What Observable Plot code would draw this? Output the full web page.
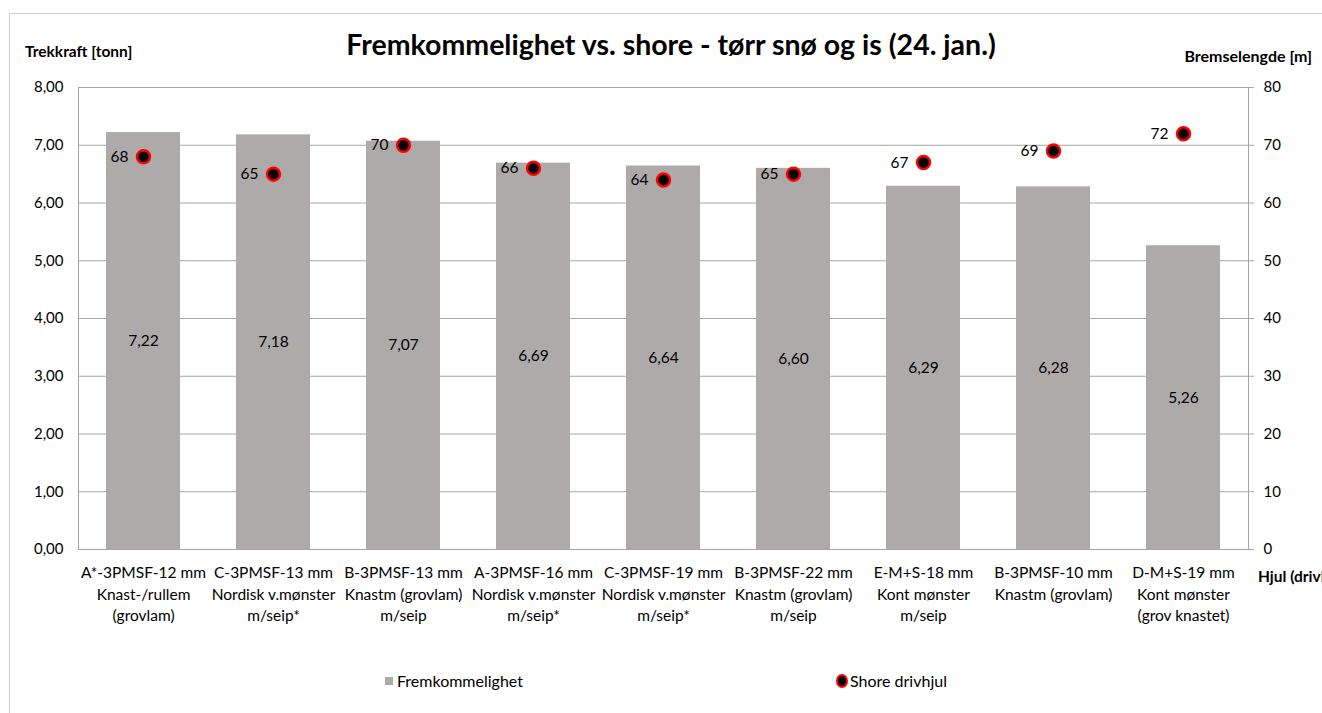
<!DOCTYPE html>
<html>
<head>
<meta charset="utf-8">
<script src="https://cdn.jsdelivr.net/npm/d3@7"></script>
<script src="https://cdn.jsdelivr.net/npm/@observablehq/plot@0.6"></script>
<style>
  html, body { margin: 0; padding: 0; background: #fff; }
  #wrap { position: relative; width: 1322px; height: 713px; overflow: hidden; font-family: Lato, "Open Sans", sans-serif; color: #000; }
  #border { position: absolute; left: 9px; top: 13px; width: 1330px; height: 720px; border: 1px solid #d0d0d0; box-sizing: border-box; }
  .lbl { position: absolute; white-space: nowrap; }
  #title { left: 0; width: 1342px; text-align: center; top: 27px; font-size: 28.5px; font-weight: bold; }
  #ylab { left: 25px; top: 42px; font-size: 15.5px; font-weight: bold; }
  #y2lab { right: 10px; top: 46px; font-size: 16px; font-weight: bold; }
  #xlab { left: 1258px; top: 567px; font-size: 15.5px; font-weight: bold; }
  .leg { top: 671px; font-size: 16px; display: flex; align-items: center; }
  #plot { position: absolute; left: 0; top: 0; }
</style>
</head>
<body>
<div id="wrap">
  <div id="border"></div>
  <div id="plot"></div>
  <div class="lbl" id="title">Fremkommelighet vs. shore - tørr snø og is (24. jan.)</div>
  <div class="lbl" id="ylab">Trekkraft [tonn]</div>
  <div class="lbl" id="y2lab">Bremselengde [m]</div>
  <div class="lbl" id="xlab">Hjul (drivhjul)</div>
  <div class="lbl leg" style="left:385px"><span style="display:inline-block;width:8px;height:8px;background:#aeaaaa;margin-right:4px"></span>Fremkommelighet</div>
  <div class="lbl leg" style="left:836px"><span style="display:inline-block;width:8px;height:10px;border-radius:50%;background:#000;border:2px solid #ff0000;margin-right:2px"></span>Shore drivhjul</div>
</div>
<script>
const categories = [
  "A*-3PMSF-12 mm\nKnast-/rullem\n(grovlam)",
  "C-3PMSF-13 mm\nNordisk v.mønster\nm/seip*",
  "B-3PMSF-13 mm\nKnastm (grovlam)\nm/seip",
  "A-3PMSF-16 mm\nNordisk v.mønster\nm/seip*",
  "C-3PMSF-19 mm\nNordisk v.mønster\nm/seip*",
  "B-3PMSF-22 mm\nKnastm (grovlam)\nm/seip",
  "E-M+S-18 mm\nKont mønster\nm/seip",
  "B-3PMSF-10 mm\nKnastm (grovlam)",
  "D-M+S-19 mm\nKont mønster\n(grov knastet)"
];
const fremkommelighet = [7.22, 7.18, 7.07, 6.69, 6.64, 6.60, 6.29, 6.28, 5.26];
const shore = [68, 65, 70, 66, 64, 65, 67, 69, 72];
const leftTicks = [0, 1, 2, 3, 4, 5, 6, 7, 8];
const rightTicks = [0, 10, 20, 30, 40, 50, 60, 70, 80];

const ratio = 10; // right axis (m) per left axis unit (tonn)
const data = categories.map((c, i) => ({cat: c, v: fremkommelighet[i], s: shore[i]}));
const comma = (d, n) => d.toFixed(n).replace(".", ",");

const chart = Plot.plot({
  width: 1322,
  height: 713,
  marginLeft: 78,
  marginRight: 74,
  marginTop: 87,
  marginBottom: 164,
  style: {fontFamily: "Lato, 'Open Sans', sans-serif", color: "#000", background: "transparent"},
  x: {domain: categories, paddingInner: 0.43, paddingOuter: 0.215, label: null},
  y: {domain: [0, 8], label: null},
  marks: [
    Plot.gridY(leftTicks, {stroke: "#a6a6a6", strokeOpacity: 1}),
    Plot.barY(data, {x: "cat", y: "v", fill: "#aeaaaa"}),
    Plot.frame({stroke: "#a6a6a6", strokeOpacity: 1}),
    Plot.axisY(leftTicks, {anchor: "left", tickSize: 0, tickPadding: 15, fontSize: 15, tickFormat: d => comma(d, 2), label: null}),
    Plot.axisY(rightTicks.map(d => d / ratio), {anchor: "right", tickSize: 5, tickPadding: 10, fontSize: 15, stroke: "#a6a6a6", tickFormat: d => String(Math.round(d * ratio)), label: null}),
    Plot.axisX({tickSize: 0, tickPadding: 13, fontSize: 15.5, lineHeight: 1.4, label: null}),
    Plot.text(data, {x: "cat", y: d => d.v / 2, text: d => comma(d.v, 2), fontSize: 15.5, fill: "#000"}),
    Plot.dot(data, {x: "cat", y: d => d.s / ratio, r: 6.5, fill: "#000", stroke: "#ff0000", strokeWidth: 2.5}),
    Plot.text(data, {x: "cat", y: d => d.s / ratio, text: d => String(d.s), textAnchor: "end", dx: -15, fontSize: 15.5, fill: "#000"})
  ]
});
document.getElementById("plot").appendChild(chart);
</script>
</body>
</html>
